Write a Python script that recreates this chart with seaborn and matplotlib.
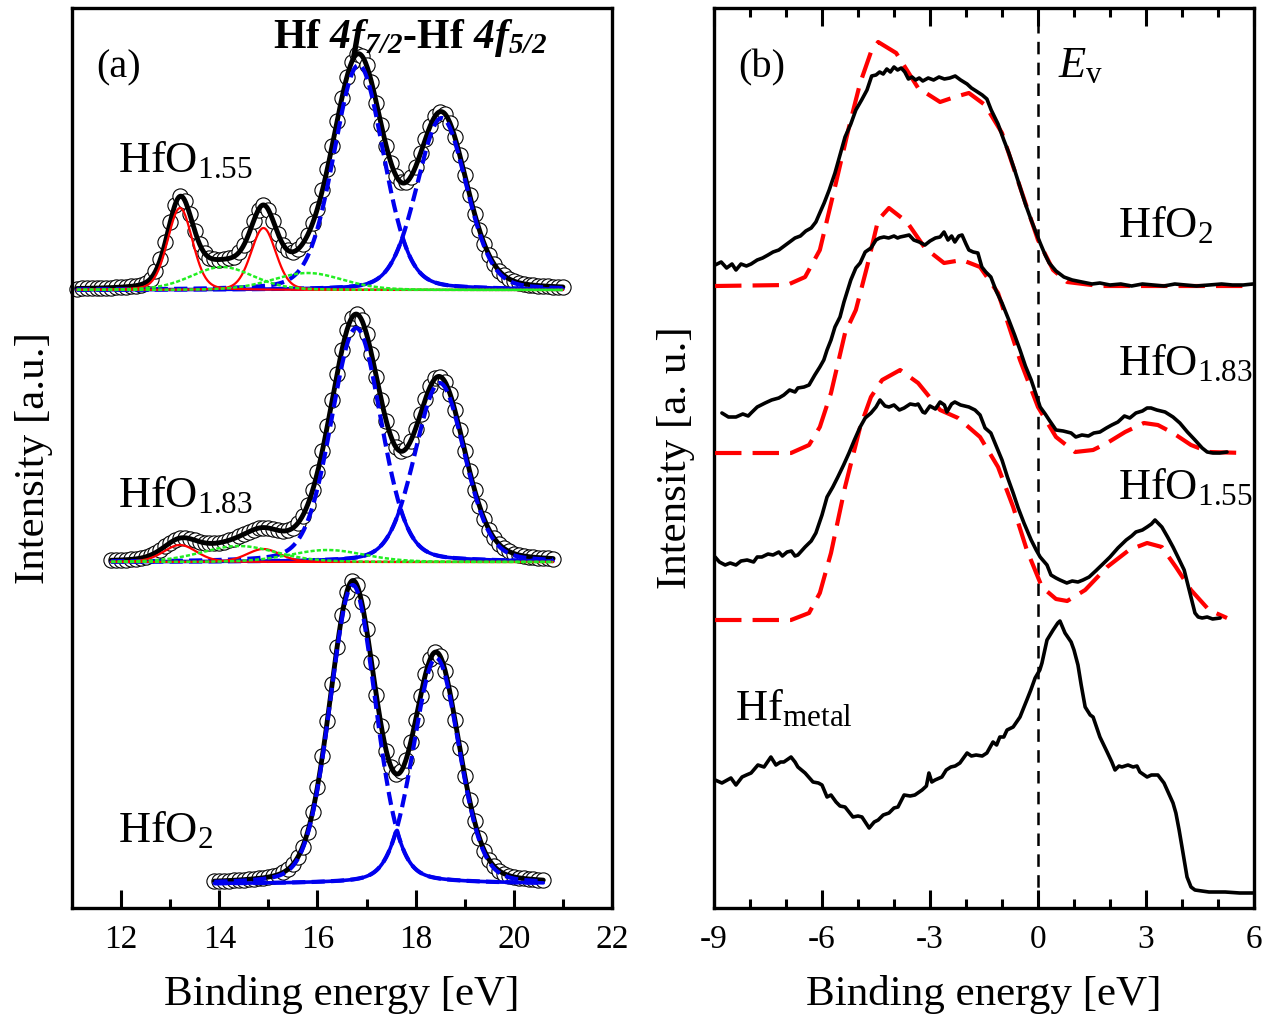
import numpy as np
import seaborn as sns
from matplotlib import pyplot as plt

# ---------------- panel (a): Hf 4f core level, fitted components ----------------
# each peak: (centre [eV], height [a.u.], fwhm [eV])
core_labels = ['HfO$_{\\mathrm{1.55}}$', 'HfO$_{\\mathrm{1.83}}$', 'HfO$_{\\mathrm{2}}$']
core_offset = [618, 346, 24]
core_start = [11.1, 11.8, 13.9]
core_stop = [21.0, 20.8, 20.6]
blue_peaks = [
    [(16.84, 225, 1.2), (18.53, 172, 1.2)],
    [(16.79, 234, 1.2), (18.49, 179, 1.2)],
    [(16.72, 299, 1.1), (18.42, 226, 1.1)],
]
red_peaks = [
    [(13.2, 82, 0.6), (14.9, 62, 0.6)],
    [(13.2, 17, 0.8), (14.9, 13, 0.8)],
    [],
]
green_peaks = [
    [(14.06, 23, 1.5), (15.8, 17, 1.7)],
    [(14.4, 16, 1.8), (16.2, 12, 1.8)],
    [],
]

# ---------------- panel (b): valence band spectra ----------------
hfo2_e = [-8.97, -8.8, -8.65, -8.5, -8.39, -8.25, -8.1, -7.97, -7.8, -7.65, -7.5, -7.36, -7.2, -7.05,
          -6.9, -6.75, -6.6, -6.45, -6.3, -6.17, -6.05, -5.94, -5.8, -5.64, -5.5, -5.36, -5.2, -5.06,
          -4.9, -4.75, -4.62, -4.5, -4.4, -4.3, -4.2, -4.1, -4.0, -3.9, -3.8, -3.7, -3.6, -3.5, -3.4,
          -3.3, -3.2, -3.05, -2.9, -2.75, -2.6, -2.45, -2.3, -2.15, -1.97, -1.85, -1.72, -1.55, -1.42,
          -1.3, -1.11, -0.95, -0.81, -0.65, -0.5, -0.35, -0.19, -0.05, 0.06, 0.2, 0.31, 0.5, 0.72,
          0.95, 1.22, 1.5, 1.72, 2.0, 2.3, 2.6, 2.9, 3.2, 3.5, 3.8, 4.1, 4.4, 4.75, 5.1, 5.4, 5.7, 5.97]
hfo2_i = [643, 646, 640, 644, 638, 644, 642, 644, 648, 650, 653, 656, 658, 662,
          666, 670, 672, 677, 680, 686, 696, 705, 718, 735, 753, 771, 784, 798,
          808, 818, 832, 833, 836, 834, 839, 836, 841, 838, 840, 836, 829, 831, 828,
          830, 827, 830, 828, 831, 829, 830, 832, 828, 824, 820, 817, 813, 809,
          798, 784, 768, 755, 738, 721, 704, 688, 675, 665, 653, 645, 637, 631,
          628, 626, 624, 625, 623, 624, 622, 624, 623, 622, 624, 623, 622, 623, 624, 623, 623, 624]
hfo2_calc_e = [-8.97, -6.97, -6.47, -6.06, -5.64, -5.25, -4.94, -4.64, -4.44, -3.94, -3.33, -2.72,
               -2.31, -1.92, -1.47, -1.0, -0.5, 0.0, 0.42, 0.81, 1.72, 5.97]
hfo2_calc_i = [622, 623, 631, 658, 721, 781, 825, 856, 866, 855, 820, 806,
               811, 815, 803, 775, 721, 668, 638, 626, 622, 622]

hfo183_e = [-8.78, -8.6, -8.39, -8.2, -8.05, -7.97, -7.8, -7.58, -7.4, -7.2, -7.06, -6.9, -6.75,
            -6.67, -6.5, -6.36, -6.2, -6.06, -5.95, -5.86, -5.75, -5.64, -5.5, -5.39, -5.2, -5.06,
            -4.94, -4.8, -4.64, -4.5, -4.4, -4.28, -4.15, -4.0, -3.9, -3.83, -3.7, -3.58, -3.45,
            -3.3, -3.14, -3.0, -2.85, -2.72, -2.61, -2.5, -2.4, -2.31, -2.2, -2.11, -2.0, -1.92,
            -1.8, -1.67, -1.56, -1.45, -1.31, -1.15, -1.0, -0.81, -0.65, -0.5, -0.35, -0.19, -0.05,
            0.06, 0.2, 0.31, 0.5, 0.7, 0.92, 1.05, 1.22, 1.4, 1.55, 1.72, 1.9, 2.05, 2.22, 2.4,
            2.55, 2.72, 2.9, 3.03, 3.14, 3.3, 3.53, 3.75, 3.94, 4.15, 4.36, 4.56, 4.7, 4.86, 5.05, 5.25]
hfo183_i = [495, 491, 491, 494, 492, 495, 501, 505, 508, 510, 513, 518, 516,
            520, 521, 523, 533, 541, 548, 558, 568, 581, 591, 606, 628, 640,
            645, 656, 660, 668, 670, 671, 670, 672, 670, 671, 672, 673, 668,
            666, 663, 667, 670, 671, 676, 668, 672, 666, 672, 673, 664, 658,
            656, 655, 641, 636, 631, 616, 605, 588, 573, 558, 542, 528, 513,
            501, 494, 488, 478, 477, 475, 471, 473, 472, 475, 476, 480, 483, 486, 492,
            490, 495, 497, 500, 500, 498, 496, 491, 485, 476, 468, 460, 456, 455, 455, 456]
hfo183_calc_e = [-8.97, -6.86, -6.36, -6.06, -5.75, -5.36, -5.06, -4.75, -4.44, -4.14, -3.64, -3.14,
                 -2.61, -2.11, -1.61, -1.11, -0.5, 0.0, 0.5, 1.03, 1.53, 1.92, 2.42, 2.94, 3.33,
                 3.75, 4.25, 4.75, 5.75]
hfo183_calc_i = [455, 455, 463, 481, 515, 575, 598, 641, 688, 700, 686, 660,
                 645, 648, 641, 615, 548, 501, 471, 456, 458, 465, 476, 485, 483,
                 475, 463, 456, 455]

hfo155_e = [-8.97, -8.85, -8.69, -8.55, -8.39, -8.25, -8.08, -7.9, -7.8, -7.67, -7.5, -7.36, -7.2,
            -7.1, -6.97, -6.85, -6.75, -6.67, -6.47, -6.3, -6.17, -6.0, -5.86, -5.7, -5.56, -5.4,
            -5.25, -5.1, -4.94, -4.8, -4.64, -4.5, -4.39, -4.25, -4.14, -4.0, -3.85, -3.72, -3.55,
            -3.4, -3.33, -3.2, -3.14, -3.0, -2.85, -2.72, -2.6, -2.53, -2.4, -2.31, -2.15, -1.92,
            -1.75, -1.61, -1.47, -1.31, -1.15, -1.0, -0.85, -0.69, -0.55, -0.39, -0.19, -0.05, 0.06,
            0.25, 0.36, 0.5, 0.61, 0.8, 0.95, 1.11, 1.25, 1.42, 1.6, 1.83, 2.0, 2.22, 2.45, 2.6,
            2.72, 2.9, 3.03, 3.15, 3.25, 3.44, 3.6, 3.75, 3.9, 4.06, 4.2, 4.36, 4.45, 4.56, 4.7,
            4.85, 5.06]
hfo155_i = [351, 346, 343, 345, 343, 347, 348, 346, 351, 351, 354, 353, 356,
            352, 356, 357, 352, 353, 361, 367, 375, 393, 411, 421, 431, 443,
            455, 468, 481, 490, 495, 501, 508, 502, 501, 503, 498, 500, 504,
            503, 504, 496, 495, 502, 499, 506, 503, 496, 504, 506, 503, 501,
            498, 493, 480, 475, 461, 448, 431, 415, 400, 385, 368, 358, 351,
            343, 333, 330, 328, 325, 327, 326, 328, 331, 337, 345, 351, 360, 368, 372,
            376, 378, 381, 384, 388, 381, 371, 361, 350, 338, 318, 295, 291, 290, 291,
            289, 290]
hfo155_calc_e = [-8.97, -6.86, -6.36, -6.06, -5.75, -5.36, -4.94, -4.64, -4.33, -3.83, -3.33, -2.72,
                 -2.22, -1.61, -1.11, -0.69, -0.31, 0.11, 0.5, 0.81, 1.31, 1.92, 2.53, 3.03, 3.44,
                 3.83, 4.25, 4.75, 5.25]
hfo155_calc_i = [288, 288, 295, 315, 355, 421, 481, 511, 528, 538, 525, 498,
                 490, 471, 441, 401, 358, 321, 309, 307, 318, 341, 358, 365, 361,
                 341, 318, 298, 290]

metal_e = [-8.97, -8.78, -8.53, -8.39, -8.22, -8.1, -7.97, -7.78, -7.61, -7.42, -7.28, -7.15, -7.06,
           -6.86, -6.75, -6.67, -6.47, -6.25, -6.1, -6.0, -5.86, -5.75, -5.61, -5.5, -5.36, -5.25,
           -5.14, -5.0, -4.89, -4.69, -4.55, -4.44, -4.3, -4.14, -4.0, -3.89, -3.72, -3.55, -3.42,
           -3.3, -3.22, -3.1, -3.03, -2.95, -2.86, -2.67, -2.55, -2.42, -2.3, -2.17, -1.97, -1.85,
           -1.72, -1.55, -1.42, -1.25, -1.15, -1.06, -0.95, -0.86, -0.69, -0.5, -0.4, -0.31, -0.2,
           -0.08, 0.05, 0.11, 0.25, 0.42, 0.55, 0.61, 0.75, 0.92, 1.0, 1.11, 1.2, 1.31, 1.45, 1.53,
           1.72, 1.92, 2.05, 2.14, 2.25, 2.33, 2.5, 2.64, 2.75, 2.83, 3.03, 3.15, 3.33, 3.5, 3.65,
           3.75, 3.83, 3.92, 4.0, 4.14, 4.25, 4.36, 4.55, 4.75, 5.2, 5.6, 5.97]
metal_i = [128, 125, 130, 123, 131, 133, 135, 143, 141, 151, 143, 146, 146,
           151, 146, 141, 135, 126, 125, 123, 111, 113, 106, 102, 101, 96,
           91, 92, 91, 80, 86, 88, 93, 95, 100, 101, 113, 112, 113,
           116, 118, 122, 135, 126, 128, 131, 138, 141, 142, 145, 155, 152,
           153, 152, 155, 166, 163, 171, 171, 178, 181, 191, 200, 208, 218,
           230, 238, 245, 268, 278, 285, 287, 275, 266, 258, 243, 223, 201, 193, 191,
           171, 156, 146, 138, 142, 141, 143, 141, 142, 136, 131, 133, 133, 125, 113,
           105, 95, 78, 61, 31, 21, 18, 17, 16, 16, 15, 15]


def pvoigt(e, centre, height, fwhm, eta=0.2):
    u = (e - centre) / fwhm
    return height * ((1 - eta) * np.exp(-4 * np.log(2) * u ** 2) + eta / (1 + 4 * u ** 2))


sns.set_style('ticks')
plt.rcParams['font.family'] = ['Liberation Serif', 'DejaVu Serif']
plt.rcParams['mathtext.fontset'] = 'custom'
plt.rcParams['mathtext.rm'] = 'Liberation Serif'
plt.rcParams['mathtext.it'] = 'Liberation Serif:italic'
plt.rcParams['mathtext.bf'] = 'Liberation Serif:bold'
plt.rcParams['mathtext.bfit'] = 'Liberation Serif:bold:italic'
plt.rcParams['axes.unicode_minus'] = False
plt.rcParams['lines.scale_dashes'] = False
plt.rcParams['axes.linewidth'] = 2.4
for key in ['axes.edgecolor', 'axes.labelcolor', 'text.color', 'xtick.color', 'ytick.color']:
    plt.rcParams[key] = 'black'

fig = plt.figure(figsize=(12.76, 10.34), dpi=100)
ax_a = fig.add_axes([72 / 1276, 126 / 1034, 540 / 1276, 900 / 1034])
ax_b = fig.add_axes([714 / 1276, 126 / 1034, 540 / 1276, 900 / 1034])


def line(ax, x, y, color, lw, dashes=None, z=3):
    sns.lineplot(x=x, y=y, ax=ax, color=color, lw=lw, estimator=None, sort=False, zorder=z)
    if dashes is not None:
        ax.lines[-1].set_dashes(dashes)


# ---- panel (a)
for k in range(3):
    off = core_offset[k]
    e_fine = np.arange(core_start[k], core_stop[k] + 0.001, 0.02)
    e_pts = np.arange(core_start[k], core_stop[k] + 0.001, 0.1)
    peaks = blue_peaks[k] + red_peaks[k] + green_peaks[k]
    total_pts = off + sum(pvoigt(e_pts, *p) for p in peaks)
    total_fine = off + sum(pvoigt(e_fine, *p) for p in peaks)
    sns.scatterplot(x=e_pts, y=total_pts, ax=ax_a, s=120, facecolor='white',
                    edgecolor='black', linewidth=0.8, zorder=2, clip_on=False)
    line(ax_a, e_fine, total_fine, 'black', 3.5, z=3)
    b1 = pvoigt(e_fine, *blue_peaks[k][0])
    b2 = pvoigt(e_fine, *blue_peaks[k][1])
    line(ax_a, e_fine, off + b1, '#0000ee', 3.0, dashes=[9.5, 4.5], z=4)
    line(ax_a, e_fine, off + b2, '#0000ee', 3.0, dashes=[9.5, 4.5], z=4)
    line(ax_a, e_fine, off + np.minimum(b1, b2), '#0000ee', 2.6, z=4)
    for p in red_peaks[k]:
        line(ax_a, e_fine, off + pvoigt(e_fine, *p), '#ff0000', 1.6, z=5)
    for p in green_peaks[k]:
        line(ax_a, e_fine, off + pvoigt(e_fine, *p), '#22ee22', 1.8, dashes=[3, 1.5], z=6)

ax_a.set_xlim(11, 22)
ax_a.set_ylim(0, 900)
ax_a.set_xticks([12, 14, 16, 18, 20, 22])
ax_a.set_xticks([13, 15, 17, 19, 21], minor=True)
ax_a.set_yticks([])
ax_a.tick_params(axis='x', which='both', direction='in', top=False, bottom=True,
                 labelsize=24, pad=12, width=2.2)
ax_a.tick_params(axis='x', which='major', length=13)
ax_a.tick_params(axis='x', which='minor', length=6.5)
ax_a.set_xlabel('Binding energy [eV]', fontsize=31, labelpad=14)
ax_a.set_ylabel('Intensity [a.u.]', fontsize=31, labelpad=14)

ax_a.text(11.94, 840, '(a)', fontsize=29, ha='center', va='center')
ax_a.text(15.1, 860, 'Hf $\\mathbfit{4f}_{\\mathbfit{7/2}}$-Hf $\\mathbfit{4f}_{\\mathbfit{5/2}}$',
          fontsize=30, fontweight='bold', ha='left', va='baseline')
label_y = [736, 401, 66]
for k in range(3):
    ax_a.text(11.94, label_y[k], core_labels[k], fontsize=32, ha='left', va='baseline')

# ---- panel (b)
line(ax_b, hfo2_calc_e, hfo2_calc_i, '#ff0000', 3.0, dashes=[19, 8], z=3)
line(ax_b, hfo183_calc_e, hfo183_calc_i, '#ff0000', 3.0, dashes=[19, 8], z=3)
line(ax_b, hfo155_calc_e, hfo155_calc_i, '#ff0000', 3.0, dashes=[19, 8], z=3)
line(ax_b, hfo2_e, hfo2_i, 'black', 2.6, z=4)
line(ax_b, hfo183_e, hfo183_i, 'black', 2.6, z=4)
line(ax_b, hfo155_e, hfo155_i, 'black', 2.6, z=4)
line(ax_b, metal_e, metal_i, 'black', 2.6, z=4)
ax_b.axvline(0, color='black', lw=1.8, zorder=2)
ax_b.lines[-1].set_dashes([9, 6])

ax_b.set_xlim(-9, 6)
ax_b.set_ylim(0, 900)
ax_b.set_xticks([-9, -6, -3, 0, 3, 6])
ax_b.set_xticks([-8, -7, -5, -4, -2, -1, 1, 2, 4, 5], minor=True)
ax_b.set_yticks([])
ax_b.tick_params(axis='x', which='both', direction='in', top=True, bottom=True,
                 labelsize=24, pad=12, width=2.2)
ax_b.tick_params(axis='x', which='major', length=13)
ax_b.tick_params(axis='x', which='minor', length=6.5)
ax_b.set_xlabel('Binding energy [eV]', fontsize=31, labelpad=14)
ax_b.set_ylabel('Intensity [a. u.]', fontsize=31, labelpad=14)

ax_b.text(-8.33, 840, '(b)', fontsize=29, ha='left', va='center')
ax_b.text(0.56, 831, '$E_{\\mathrm{v}}$', fontsize=32, ha='left', va='baseline')
ax_b.text(2.22, 671, 'HfO$_{\\mathrm{2}}$', fontsize=32, ha='left', va='baseline')
ax_b.text(2.22, 533, 'HfO$_{\\mathrm{1.83}}$', fontsize=32, ha='left', va='baseline')
ax_b.text(2.22, 409, 'HfO$_{\\mathrm{1.55}}$', fontsize=32, ha='left', va='baseline')
ax_b.text(-8.42, 188, 'Hf$_{\\mathrm{metal}}$', fontsize=32, ha='left', va='baseline')

fig.savefig('out.png', dpi=100)
